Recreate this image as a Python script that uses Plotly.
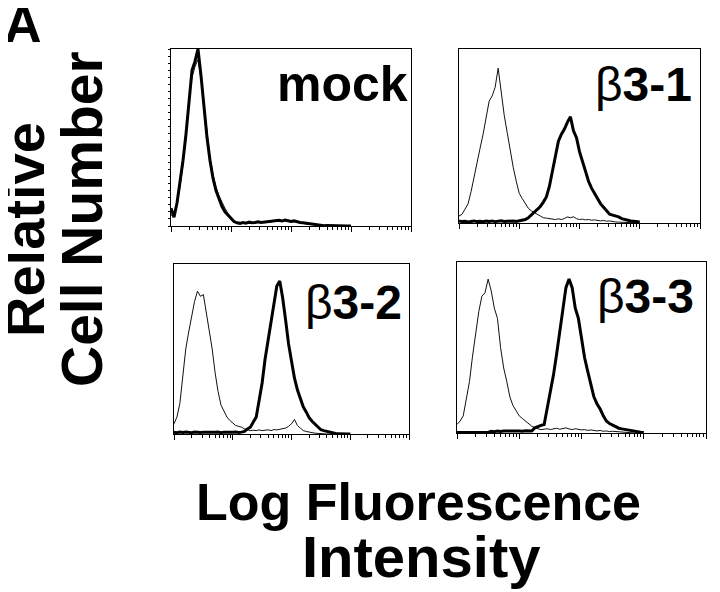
import plotly.graph_objects as go

# Channel grid in decades of log fluorescence (0..3, step 0.05)
CHANNEL_DECADES = [round(0.05 * i, 2) for i in range(61)]
INTENSITY = [10 ** d for d in CHANNEL_DECADES]

PANEL_LABELS = ["mock", "β3-1", "β3-2", "β3-3"]

# Relative cell number (fraction of panel height); thin = control, thick = stained
MOCK_CTRL = [0.06, 0.07, 0.12, 0.22, 0.35, 0.50, 0.70, 0.84, 0.90, 0.94,
             0.83, 0.68, 0.52, 0.39, 0.29, 0.22, 0.17, 0.13, 0.10, 0.07,
             0.05, 0.03, 0.02, 0.018, 0.015, 0.018, 0.014, 0.016, 0.02, 0.018,
             0.022, 0.018, 0.02, 0.024, 0.022, 0.026, 0.03, 0.026, 0.03, 0.028,
             0.022, 0.024, 0.02, 0.016, 0.014, 0.012, 0.01, 0.008, 0.006, 0.004,
             0.003, 0, 0, 0, 0, 0, 0, 0, 0, 0,
             0]
MOCK_STAIN = [0.10, 0.05, 0.13, 0.24, 0.37, 0.52, 0.71, 0.88, 0.93, 1.00,
              0.85, 0.67, 0.50, 0.37, 0.27, 0.20, 0.15, 0.11, 0.08, 0.06,
              0.04, 0.025, 0.018, 0.015, 0.02, 0.016, 0.022, 0.018, 0.02, 0.024,
              0.02, 0.022, 0.026, 0.024, 0.028, 0.03, 0.032, 0.028, 0.034, 0.03,
              0.026, 0.03, 0.024, 0.02, 0.018, 0.016, 0.012, 0.01, 0.006, 0.004,
              0.004, 0.002, 0.003, 0.002, 0.001, 0, 0, 0, 0, 0,
              0]
B31_CTRL = [0.04, 0.05, 0.08, 0.11, 0.18, 0.27, 0.35, 0.43, 0.51, 0.61,
            0.70, 0.73, 0.78, 0.89, 0.75, 0.62, 0.52, 0.41, 0.32, 0.24,
            0.17, 0.14, 0.11, 0.085, 0.07, 0.06, 0.05, 0.04, 0.03, 0.028,
            0.025, 0.022, 0.02, 0.024, 0.02, 0.026, 0.035, 0.03, 0.036, 0.025,
            0.02, 0.022, 0.018, 0.02, 0.016, 0.018, 0.014, 0.012, 0.015, 0.01,
            0.012, 0.008, 0.006, 0.005, 0.004, 0.002, 0, 0, 0, 0,
            0]
B31_STAIN = [0.012, 0.008, 0.01, 0.006, 0.009, 0.012, 0.008, 0.01, 0.007, 0.011,
             0.009, 0.012, 0.008, 0.01, 0.013, 0.009, 0.011, 0.01, 0.012, 0.009,
             0.012, 0.015, 0.02, 0.03, 0.045, 0.06, 0.08, 0.095, 0.12, 0.15,
             0.21, 0.29, 0.39, 0.47, 0.51, 0.54, 0.58, 0.61, 0.53, 0.49,
             0.41, 0.35, 0.29, 0.24, 0.20, 0.17, 0.14, 0.11, 0.09, 0.07,
             0.05, 0.045, 0.04, 0.035, 0.025, 0.02, 0.015, 0.012, 0.01, 0.008,
             0.006]
B32_CTRL = [0.06, 0.10, 0.18, 0.35, 0.50, 0.60, 0.70, 0.78, 0.84, 0.81,
            0.82, 0.72, 0.60, 0.50, 0.36, 0.25, 0.17, 0.13, 0.10, 0.08,
            0.065, 0.05, 0.045, 0.04, 0.03, 0.025, 0.02, 0.022, 0.02, 0.024,
            0.02, 0.022, 0.025, 0.02, 0.026, 0.024, 0.028, 0.03, 0.035, 0.045,
            0.06, 0.086, 0.05, 0.035, 0.02, 0.015, 0.01, 0.008, 0.005, 0.003,
            0, 0, 0, 0, 0, 0, 0, 0, 0, 0,
            0]
B32_STAIN = [0.01, 0.008, 0.012, 0.009, 0.011, 0.01, 0.008, 0.012, 0.01, 0.009,
             0.011, 0.01, 0.012, 0.009, 0.01, 0.012, 0.008, 0.011, 0.01, 0.012,
             0.01, 0.012, 0.009, 0.011, 0.015, 0.03, 0.04, 0.07, 0.10, 0.20,
             0.30, 0.44, 0.55, 0.66, 0.75, 0.87, 0.90, 0.80, 0.67, 0.53,
             0.43, 0.33, 0.26, 0.21, 0.16, 0.13, 0.096, 0.075, 0.06, 0.04,
             0.025, 0.02, 0.015, 0.01, 0.006, 0.003, 0.002, 0, 0, 0,
             0]
B33_CTRL = [0.05, 0.07, 0.10, 0.20, 0.30, 0.45, 0.58, 0.71, 0.80, 0.82,
            0.90, 0.83, 0.73, 0.67, 0.50, 0.38, 0.30, 0.21, 0.16, 0.13,
            0.10, 0.085, 0.07, 0.05, 0.04, 0.03, 0.025, 0.02, 0.022, 0.025,
            0.02, 0.024, 0.028, 0.022, 0.026, 0.03, 0.024, 0.02, 0.025, 0.02,
            0.018, 0.02, 0.015, 0.018, 0.014, 0.012, 0.015, 0.01, 0.012, 0.008,
            0.01, 0.008, 0.006, 0.005, 0.004, 0.003, 0, 0, 0, 0,
            0]
B33_STAIN = [0.003, 0.003, 0.002, 0.003, 0.004, 0.003, 0.002, 0.003, 0.003, 0.004,
             0.003, 0.01, 0.008, 0.012, 0.009, 0.011, 0.01, 0.012, 0.009, 0.011,
             0.012, 0.01, 0.013, 0.011, 0.012, 0.03, 0.04, 0.045, 0.05, 0.14,
             0.24, 0.34, 0.46, 0.58, 0.72, 0.85, 0.90, 0.85, 0.73, 0.67,
             0.54, 0.44, 0.36, 0.28, 0.21, 0.17, 0.14, 0.10, 0.07, 0.055,
             0.045, 0.035, 0.028, 0.024, 0.02, 0.016, 0.012, 0.01, 0.008, 0.005,
             0.003]

CONTROLS = [MOCK_CTRL, B31_CTRL, B32_CTRL, B33_CTRL]
STAINED = [MOCK_STAIN, B31_STAIN, B32_STAIN, B33_STAIN]

W, H = 720, 592
# panel frames in pixels: (left, right, top, bottom)
FRAMES = [(163, 403, 41, 218), (451, 692, 41, 215),
          (166, 401, 256, 426), (449, 698, 254, 425)]
# label anchor (right x, middle y, font size)
LABEL_POS = [(402, 76, 50), (686, 77, 48), (396, 295, 48), (688, 288, 48)]

FONT = "Liberation Sans, Arial, Helvetica, sans-serif"

major = [1, 10, 100, 1000, 10000]
minor = [m * 10 ** e for e in range(4) for m in range(2, 10)]

fig = go.Figure()
layout = {}
for k in range(4):
    sfx = "" if k == 0 else str(k + 1)
    l, r, t, b = FRAMES[k]
    fig.add_trace(go.Scatter(x=INTENSITY[:len(CONTROLS[k])], y=CONTROLS[k],
                             mode="lines", line=dict(color="#111", width=1),
                             xaxis="x" + sfx, yaxis="y" + sfx, showlegend=False,
                             hoverinfo="skip"))
    fig.add_trace(go.Scatter(x=INTENSITY[:len(STAINED[k])], y=STAINED[k],
                             mode="lines", line=dict(color="#000", width=3),
                             xaxis="x" + sfx, yaxis="y" + sfx, showlegend=False,
                             hoverinfo="skip"))
    layout["xaxis" + sfx] = dict(
        type="log", range=[0, 4], domain=[l / W, r / W], anchor="y" + sfx,
        showline=True, mirror=True, linecolor="black", linewidth=1.3,
        ticks="outside", tickvals=major, ticklen=5, tickwidth=1, tickcolor="black",
        showticklabels=False, showgrid=False, zeroline=False,
        minor=dict(tickmode="array", tickvals=minor, ticks="outside", ticklen=3,
                   tickwidth=1, tickcolor="black", showgrid=False))
    layout["yaxis" + sfx] = dict(
        range=[0, 1.0], domain=[1 - b / H, 1 - t / H], anchor="x" + sfx,
        showline=True, mirror=True, linecolor="black", linewidth=1.3,
        ticks="outside" if k == 0 else "", dtick=0.04, ticklen=2, tickcolor="black",
        showticklabels=False, showgrid=False, zeroline=False)

annotations = []
for k in range(4):
    x, y, size = LABEL_POS[k]
    lab = PANEL_LABELS[k]
    if lab.startswith("β"):
        text = "β<b>" + lab[1:] + "</b>"
    else:
        text = "<b>" + lab + "</b>"
    annotations.append(dict(text=text, x=x / W, y=1 - y / H, xref="paper", yref="paper",
                            xanchor="right", yanchor="middle", showarrow=False,
                            font=dict(family=FONT, size=size, color="black")))

annotations += [
    dict(text="<b>A</b>", x=-6 / W, y=1 - 16 / H, xanchor="left", yanchor="middle",
         font=dict(family=FONT, size=52, color="black")),
    dict(text="<b>Relative</b>", x=16 / W, y=1 - 222 / H, xanchor="center", yanchor="middle",
         textangle=-90, font=dict(family=FONT, size=56, color="black")),
    dict(text="<b>Cell Number</b>", x=74 / W, y=1 - 211 / H, xanchor="center", yanchor="middle",
         textangle=-90, font=dict(family=FONT, size=57, color="black")),
    dict(text="<b>Log Fluorescence</b>", x=410 / W, y=1 - 494 / H, xanchor="center",
         yanchor="middle", font=dict(family=FONT, size=52, color="black")),
    dict(text="<b>Intensity</b>", x=414 / W, y=1 - 548 / H, xanchor="center",
         yanchor="middle", font=dict(family=FONT, size=58, color="black")),
]
for a in annotations[4:]:
    a.update(xref="paper", yref="paper", showarrow=False)

fig.update_layout(width=W, height=H, margin=dict(l=0, r=0, t=0, b=0),
                  paper_bgcolor="white", plot_bgcolor="white",
                  annotations=annotations, **layout)
fig.write_html("out.html")
